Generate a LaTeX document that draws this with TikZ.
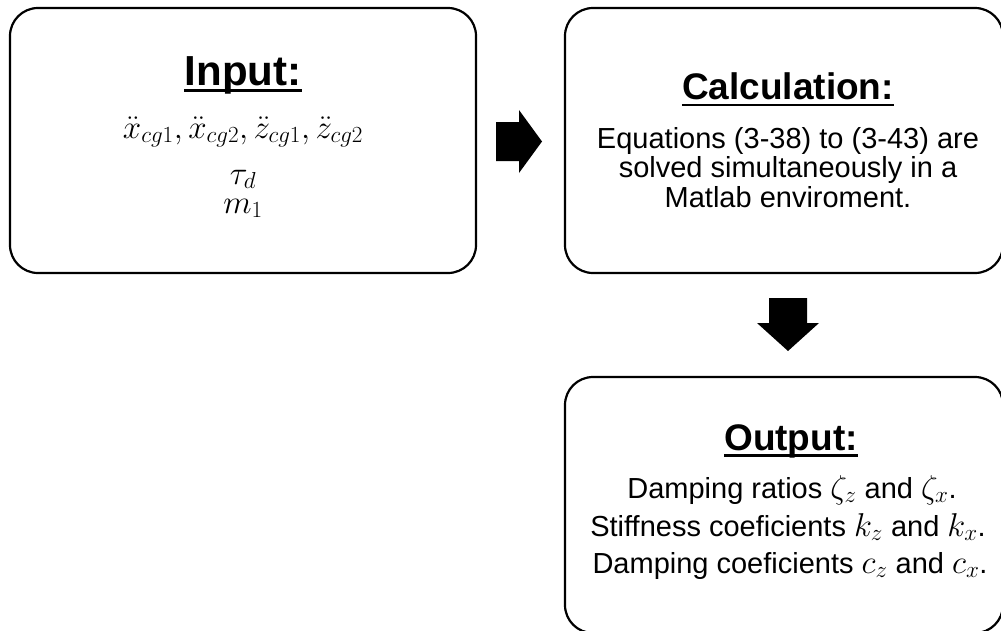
\documentclass[tikz,border=0pt]{standalone}
\usepackage{fix-cm}
\usepackage{fontspec}
\setmainfont{Liberation Sans}
\newcommand\mymath[1]{{\fontsize{33}{36}\selectfont$#1$}}
\begin{document}
\begin{tikzpicture}[x=1pt,y=-1pt,
  box/.style={draw=black, line width=2.2pt, rounded corners=28pt, inner sep=0pt},
  bigtitle/.style={font=\bfseries\fontsize{42}{48}\selectfont, inner sep=0pt, anchor=base},
  midtitle/.style={font=\bfseries\fontsize{37}{42}\selectfont, inner sep=0pt, anchor=base},
  body/.style={font=\fontsize{29}{33}\selectfont, inner sep=0pt, anchor=base},
  uline/.style={line width=2.8pt},
  blockarrow/.style={fill=black, draw=none}
]
\useasboundingbox (0,0) rectangle (1001,630);
\begin{scope}
\clip (0,0) rectangle (1001,630);
% boxes
\node[box, minimum width=466pt, minimum height=265pt] (inbox) at (243,140.5) {};
\node[box, minimum width=438pt, minimum height=265pt] (calcbox) at (784,140.5) {};
\node[box, minimum width=438pt, minimum height=256pt] (outbox) at (784,505) {};

% Input
\node[bigtitle] (tin) at (243,85) {Input:};
\draw[uline] ([yshift=-5.5pt]tin.base west) -- ([yshift=-5.5pt]tin.base east);
\node[body] (in1) at (243,138) {\mymath{\ddot{x}_{cg1},\ddot{x}_{cg2},\ddot{z}_{cg1},\ddot{z}_{cg2}}};
\node[body] (in2) at (243,184) {\mymath{\tau_d}};
\node[body] (in3) at (243,213) {\mymath{m_1}};

% Calculation
\node[midtitle] (tcalc) at (788,99) {Calculation:};
\draw[uline] ([yshift=-6pt]tcalc.base west) -- ([yshift=-6pt]tcalc.base east);
\node[body] (c1) at (788,148) {Equations (3-38) to (3-43) are};
\node[body] (c2) at (788,177.5) {solved simultaneously in a};
\node[body] (c3) at (788,207) {Matlab enviroment.};

% Output
\node[midtitle] (tout) at (791,450) {Output:};
\draw[uline] ([yshift=-5.5pt]tout.base west) -- ([yshift=-5.5pt]tout.base east);
\node[body] (o1) at (792,498) {Damping ratios \mymath{\zeta_z} and \mymath{\zeta_x}.};
\node[body] (o2) at (788,536) {Stiffness coeficients \mymath{k_z} and \mymath{k_x}.};
\node[body] (o3) at (790,573) {Damping coeficients \mymath{c_z} and \mymath{c_x}.};

% block arrows
\fill[blockarrow] (496,122) -- (519,122) -- (519,110) -- (542,141.5) -- (519,173) -- (519,161) -- (496,161) -- cycle;
\fill[blockarrow] (769,298) -- (807,298) -- (807,323) -- (819,323) -- (788,351) -- (757,323) -- (769,323) -- cycle;
\end{scope}
\end{tikzpicture}
\end{document}
